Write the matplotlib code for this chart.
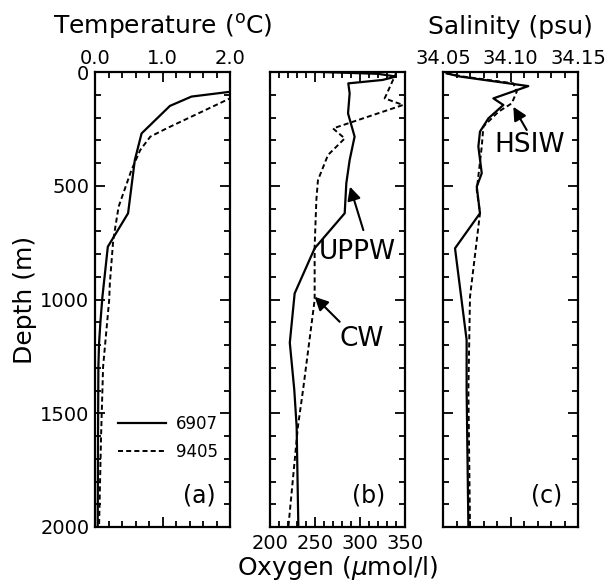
import matplotlib
matplotlib.use('Agg')
from matplotlib import pyplot as plt
from matplotlib.ticker import MultipleLocator

# temperature profiles (depth m, deg C)
t6907_depth = [80, 87, 108, 149, 270, 387, 621, 768, 988, 1100, 1193, 1295, 1600, 2000]
t6907_temp = [2.4, 2.0, 1.43, 1.11, 0.69, 0.59, 0.49, 0.19, 0.11, 0.08, 0.06, 0.05, 0.045, 0.04]
t9405_depth = [100, 116, 248, 284, 343, 431, 592, 739, 929, 1002, 1295, 1600, 2000]
t9405_temp = [2.4, 2.0, 1.06, 0.82, 0.67, 0.54, 0.35, 0.27, 0.22, 0.21, 0.12, 0.09, 0.06]

# oxygen profiles (umol/l)
o6907_depth = [0, 8, 20, 35, 50, 94, 182, 284, 387, 489, 621, 775, 973, 1190, 1398, 1559, 2000]
o6907_oxy = [258, 320, 340, 325, 287, 288.5, 286.7, 294, 288.5, 284.8, 283, 249.6, 227.4, 222, 227, 229.6, 231.5]
o9405_depth = [0, 6, 35, 116, 145, 248, 292, 365, 475, 563, 768, 1002, 1398, 1559, 2000]
o9405_oxy = [339, 340, 336.7, 327.4, 347.8, 270, 283, 264.4, 253.3, 251.5, 249.6, 249.6, 236.7, 231, 220.4]

# salinity profiles (psu)
s6907_depth = [6, 20, 62, 116, 145, 204, 262, 328, 445, 504, 621, 775, 1178, 1398, 2000]
s6907_sal = [34.0527, 34.0626, 34.1132, 34.0873, 34.0947, 34.0836, 34.0774, 34.0762,
             34.0787, 34.075, 34.0774, 34.0589, 34.0675, 34.0675, 34.0688]
s9405_depth = [6, 20, 50, 87, 138, 175, 240, 328, 519, 621, 988, 1398, 2000]
s9405_sal = [34.0527, 34.065, 34.1021, 34.1046, 34.1009, 34.091, 34.0799, 34.0787,
             34.075, 34.0774, 34.07, 34.0688, 34.07]

temp_ticks = [0.0, 1.0, 2.0]
oxy_ticks = [200, 250, 300, 350]
sal_ticks = [34.05, 34.10, 34.15]
depth_ticks = [0, 500, 1000, 1500, 2000]

dash = (0, (2.6, 1.6))
arrow = dict(arrowstyle='-|>', color='k', lw=1.5, mutation_scale=20,
             shrinkA=0, shrinkB=0)

fig = plt.figure(figsize=(6.09, 5.85), dpi=100)
w = 135 / 609
h = 455 / 585
bottom = 1 - 527 / 585
ax1 = fig.add_axes([95 / 609, bottom, w, h])
ax2 = fig.add_axes([270 / 609, bottom, w, h])
ax3 = fig.add_axes([443 / 609, bottom, w, h])

for ax in (ax1, ax2, ax3):
    ax.set_ylim(2000, 0)
    ax.yaxis.set_major_locator(MultipleLocator(500))
    ax.yaxis.set_minor_locator(MultipleLocator(100))
    ax.tick_params(which='both', direction='in', top=True, bottom=True,
                   left=True, right=True, labelsize=14, width=1.3)
    ax.tick_params(which='major', length=7)
    ax.tick_params(which='minor', length=4.5)
    for s in ax.spines.values():
        s.set_linewidth(1.6)
    ax.set_yticks(depth_ticks)

# (a) temperature
ax1.plot(t6907_temp, t6907_depth, 'k-', lw=1.6, label='6907')
ax1.plot(t9405_temp, t9405_depth, 'k', ls=dash, lw=1.4, label='9405')
ax1.set_xlim(0, 2)
ax1.set_xticks(temp_ticks)
ax1.set_xticklabels(['%.1f' % t for t in temp_ticks])
ax1.xaxis.set_minor_locator(MultipleLocator(0.2))
ax1.tick_params(axis='x', labeltop=True, labelbottom=False, pad=3)
ax1.xaxis.set_label_position('top')
ax1.set_xlabel('Temperature ($^{\\rm o}$C)', fontsize=18, labelpad=11)
ax1.set_ylabel('Depth (m)', fontsize=18, labelpad=2)
ax1.tick_params(axis='y', pad=4)
ax1.legend(loc='center left', bbox_to_anchor=(0.17, 0.195), frameon=False,
           fontsize=12, handlelength=2.9, handletextpad=0.6, labelspacing=0.6,
           borderpad=0, borderaxespad=0)
ax1.text(0.89, 0.07, '(a)', transform=ax1.transAxes, fontsize=17,
         ha='right', va='center')

# (b) oxygen
ax2.plot(o6907_oxy, o6907_depth, 'k-', lw=1.6)
ax2.plot(o9405_oxy, o9405_depth, 'k', ls=dash, lw=1.4)
ax2.set_xlim(200, 350)
ax2.set_xticks(oxy_ticks)
ax2.xaxis.set_minor_locator(MultipleLocator(10))
ax2.tick_params(axis='x', labelsize=14, pad=5)
ax2.tick_params(axis='y', labelleft=False)
ax2.set_xlabel('Oxygen ($\\mu$mol/l)', fontsize=18, labelpad=1)
ax2.annotate('', xy=(288.9, 504), xytext=(303.7, 695), arrowprops=arrow)
ax2.text(296.7, 791, 'UPPW', fontsize=19, ha='center', va='center')
ax2.annotate('', xy=(249.6, 988), xytext=(277.4, 1098), arrowprops=arrow)
ax2.text(302, 1174, 'CW', fontsize=19, ha='center', va='center')
ax2.text(0.852, 0.07, '(b)', transform=ax2.transAxes, fontsize=17,
         ha='right', va='center')

# (c) salinity
ax3.plot(s6907_sal, s6907_depth, 'k-', lw=1.6)
ax3.plot(s9405_sal, s9405_depth, 'k', ls=dash, lw=1.4)
ax3.set_xlim(34.05, 34.15)
ax3.set_xticks(sal_ticks)
ax3.set_xticklabels(['%.2f' % s for s in sal_ticks])
ax3.xaxis.set_minor_locator(MultipleLocator(0.01))
ax3.tick_params(axis='x', labeltop=True, labelbottom=False, pad=3)
ax3.tick_params(axis='y', labelleft=False)
ax3.xaxis.set_label_position('top')
ax3.set_xlabel('Salinity (psu)', fontsize=18, labelpad=11)
ax3.annotate('', xy=(34.1021, 153), xytext=(34.112, 255), arrowprops=arrow)
ax3.text(34.1144, 321, 'HSIW', fontsize=19, ha='center', va='center')
ax3.text(0.887, 0.07, '(c)', transform=ax3.transAxes, fontsize=17,
         ha='right', va='center')

fig.savefig('out.png', dpi=100)
